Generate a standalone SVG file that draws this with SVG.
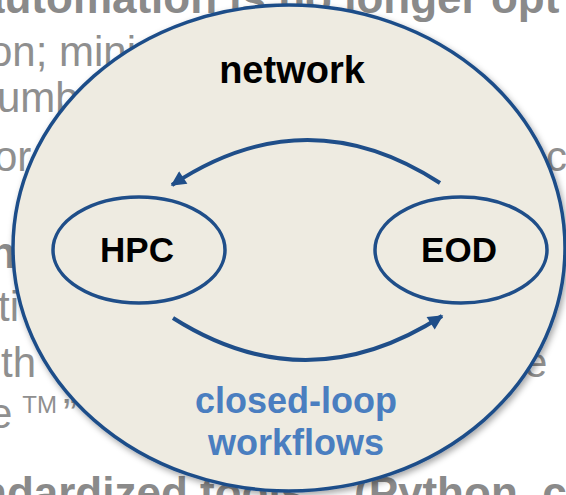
<svg xmlns="http://www.w3.org/2000/svg" width="566" height="495" viewBox="0 0 566 495">
  <defs>
    <style>
      .bg { font-family: "Liberation Sans", Arial, sans-serif; fill: #8f8f8f; font-size: 42px; }
      .bgb { font-family: "Liberation Sans", Arial, sans-serif; fill: #8a8a8a; font-size: 44px; font-weight: bold; }
      .lbl { font-family: "Liberation Sans", Arial, sans-serif; font-weight: bold; text-anchor: middle; }
      .node { fill: none; stroke: #1f4e89; stroke-width: 3.5; }
      .conn { fill: none; stroke: #1f4e89; stroke-width: 4; }
    </style>
    <filter id="shadow" x="-10%" y="-10%" width="120%" height="120%">
      <feDropShadow dx="2" dy="3" stdDeviation="3" flood-color="#000" flood-opacity="0.35"/>
    </filter>
    <marker id="arrow" viewBox="0 0 10 10" refX="9" refY="5" markerUnits="userSpaceOnUse" markerWidth="17" markerHeight="15" orient="auto">
      <path d="M0,0 L10,5 L0,10 z" fill="#1f4e89"/>
    </marker>
  </defs>

  <rect width="566" height="495" fill="#ffffff"/>

  <!-- slide text behind the diagram -->
  <g id="slide-text">
    <text class="bgb" x="-20" y="13" font-size="47.5">automation is no longer opt</text>
    <text class="bg" x="-11" y="66">on; mini</text>
    <text class="bg" x="-3" y="112">umb</text>
    <text class="bg" x="-6" y="171">or</text>
    <text class="bg" x="546" y="171">c</text>
    <text class="bgb" x="-11" y="268" fill="#7f7f7f">n</text>
    <text class="bg" x="-2" y="321">ti</text>
    <text class="bg" x="1" y="377">th</text>
    <text class="bg" x="524" y="377">e</text>
    <text class="bg" x="-11" y="428">e<tspan font-size="24" dx="10" dy="-15">TM</tspan><tspan dx="6" dy="15">”</tspan></text>
    <text class="bgb" x="-20" y="508" fill="#7a7a7a">ndardized tools</text>
    <text class="bgb" x="354" y="508" fill="#7a7a7a">(Python, c</text>
  </g>

  <!-- network boundary -->
  <g id="network">
    <ellipse cx="289" cy="248" rx="276" ry="243" fill="#eeebe1" stroke="#1f4e89" stroke-width="3.5" filter="url(#shadow)"/>
    <text class="lbl" x="292" y="83" font-size="38" fill="#000">network</text>
  </g>

  <g id="hpc">
    <ellipse class="node" cx="139" cy="250" rx="86" ry="53"/>
    <text class="lbl" x="137" y="262" font-size="35" fill="#000">HPC</text>
  </g>

  <g id="eod">
    <ellipse class="node" cx="461" cy="250" rx="86" ry="53"/>
    <text class="lbl" x="459" y="262" font-size="35" fill="#000">EOD</text>
  </g>

  <g id="connectors">
    <path class="conn" d="M440,183 Q306,96 172,185" marker-end="url(#arrow)"/>
    <path class="conn" d="M173,318 Q307,403 442,316" marker-end="url(#arrow)"/>
  </g>

  <g id="loop-label">
    <text class="lbl" x="296" y="413" font-size="36" fill="#4a7ec0">closed-loop</text>
    <text class="lbl" x="296" y="455" font-size="36" fill="#4a7ec0">workflows</text>
  </g>
</svg>
